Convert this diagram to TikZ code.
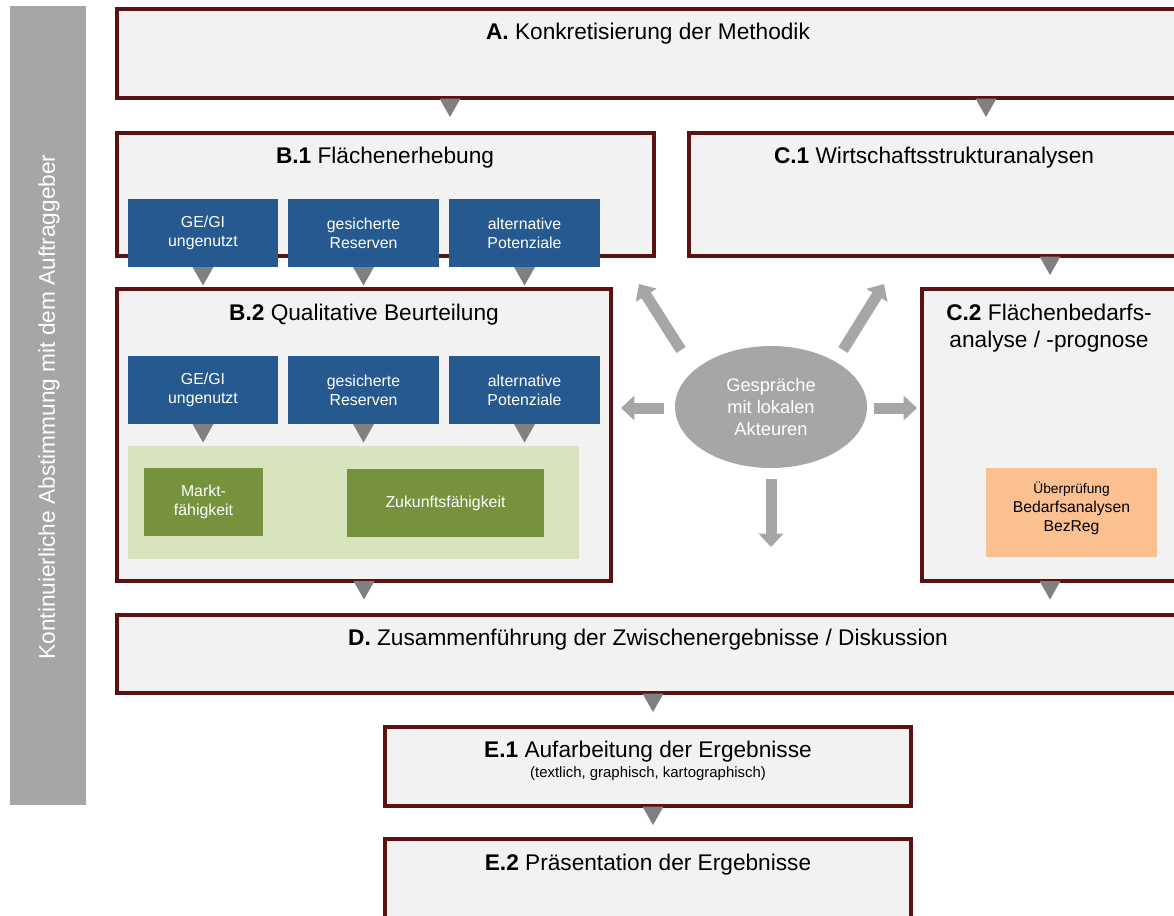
\documentclass[tikz,border=0pt]{standalone}
\usepackage{fontspec}
\setmainfont{Liberation Sans}
\usetikzlibrary{fit,arrows.meta,shapes.geometric}
\definecolor{bord}{RGB}{92,18,18}
\definecolor{boxfill}{RGB}{242,242,242}
\definecolor{bluebox}{RGB}{37,89,143}
\definecolor{greendark}{RGB}{118,146,60}
\definecolor{greenlight}{RGB}{215,228,189}
\definecolor{orangebox}{RGB}{250,192,144}
\definecolor{lgray}{RGB}{166,166,166}
\definecolor{trigray}{RGB}{128,128,128}
\begin{document}
\begin{tikzpicture}[x=0.75pt,y=-0.75pt,
  phase/.style={draw=bord, line width=3pt, fill=boxfill, inner sep=0pt, outer sep=0pt},
  flat/.style={inner sep=0pt, outer sep=0pt, draw=none},
  ttl/.style={inner sep=0pt, font=\fontsize{17}{20.25}\selectfont, align=center},
  wtext/.style={inner sep=0pt, text=white, align=center, font=\fontsize{11.9}{14.5}\selectfont},
  blk/.style={inner sep=0pt, text=black, align=center, font=\fontsize{11.8}{14.25}\selectfont},
  blockarr/.style={draw=lgray, line width=8.25pt, -{Triangle[width=18pt,length=10pt]}},
  tri/.pic={\fill[trigray] (-10.5,0) -- (10.5,0) -- (0,18.5) -- cycle;}
]
\useasboundingbox (0,0) rectangle (1174,915);
\fill[white] (0,0) rectangle (1174,915);
\clip (0,0) rectangle (1174,915);

% left bar
\node[flat, fill=lgray, fit={(10,6)(86,805)}] (bar) {};
\node[inner sep=0pt, text=white, rotate=90, font=\fontsize{17}{20}\selectfont] (bartxt) at (49,407) {Kontinuierliche Abstimmung mit dem Auftraggeber};

% phase boxes
\node[phase, fit={(117,9)(1182,98)}] (A) {};
\node[phase, fit={(117,133)(654,256)}] (B1) {};
\node[phase, fit={(689,133)(1182,256)}] (C1) {};
\node[phase, fit={(117,289)(611,581)}] (B2) {};
\node[phase, fit={(922,289)(1182,581)}] (C2) {};
\node[phase, fit={(117,615)(1182,693)}] (D) {};
\node[phase, fit={(385,727)(911,806)}] (E1) {};
\node[phase, fit={(385,839)(911,935)}] (E2) {};

% titles
\node[ttl] (tA) at (648,34) {\textbf{A.} Konkretisierung der Methodik};
\node[ttl] (tB1) at (385,158) {\textbf{B.1} Flächenerhebung};
\node[ttl] (tC1) at (934,158) {\textbf{C.1} Wirtschaftsstrukturanalysen};
\node[ttl] (tB2) at (364,315) {\textbf{B.2} Qualitative Beurteilung};
\node[ttl] (tC2) at (1049,328) {\textbf{C.2} Flächenbedarfs-\\analyse / -prognose};
\node[ttl] (tD) at (648,640) {\textbf{D.} Zusammenführung der Zwischenergebnisse / Diskussion};
\node[ttl] (tE1) at (648,752) {\textbf{E.1} Aufarbeitung der Ergebnisse};
\node[inner sep=0pt, font=\fontsize{11.2}{13}\selectfont] (sE1) at (648,774) {(textlich, graphisch, kartographisch)};
\node[ttl] (tE2) at (648,865) {\textbf{E.2} Präsentation der Ergebnisse};

% blue boxes B.1
\node[flat, fill=bluebox, fit={(128,199)(278,267)}] (b1a) {};
\node[flat, fill=bluebox, fit={(288,199)(439,267)}] (b1b) {};
\node[flat, fill=bluebox, fit={(449,199)(600,267)}] (b1c) {};
\node[wtext] (tb1a) at (b1a.center) {GE/GI\\ungenutzt};
\node[wtext] (tb1b) at (b1b.center) {gesicherte\\Reserven};
\node[wtext] (tb1c) at (b1c.center) {alternative\\Potenziale};

% blue boxes B.2
\node[flat, fill=bluebox, fit={(128,356)(278,424)}] (b2a) {};
\node[flat, fill=bluebox, fit={(288,356)(439,424)}] (b2b) {};
\node[flat, fill=bluebox, fit={(449,356)(600,424)}] (b2c) {};
\node[wtext] (tb2a) at (b2a.center) {GE/GI\\ungenutzt};
\node[wtext] (tb2b) at (b2b.center) {gesicherte\\Reserven};
\node[wtext] (tb2c) at (b2c.center) {alternative\\Potenziale};

% green area
\node[flat, fill=greenlight, fit={(128,446)(579,559)}] (garea) {};
\node[flat, fill=greendark, fit={(144,468)(263,536)}] (markt) {};
\node[flat, fill=greendark, fit={(347,469)(544,537)}] (zuk) {};
\node[wtext] (tmarkt) at (markt.center) {Markt-\\fähigkeit};
\node[wtext] (tzuk) at (zuk.center) {Zukunftsfähigkeit};

% orange box
\node[flat, fill=orangebox, fit={(986,468)(1157,557)}] (orng) {};
\node[blk] (torng) at (1071.5,508) {{\fontsize{10.3}{14.25}\selectfont Überprüfung}\\Bedarfsanalysen\\BezReg};

% ellipse
\node[ellipse, fill=lgray, draw=none, minimum width=144pt, minimum height=91.5pt, inner sep=0pt] (G) at (771,407) {};
\node[inner sep=0pt, text=white, align=center, font=\fontsize{13.7}{16.5}\selectfont] (tG) at (G.center) {Gespräche\\mit lokalen\\Akteuren};

% block arrows from the ellipse
\coordinate (aLs) at (664,408); \coordinate (aLe) at (621,408);
\coordinate (aRs) at (874,408); \coordinate (aRe) at (917,408);
\coordinate (aDs) at (771,479); \coordinate (aDe) at (771,547);
\coordinate (aULs) at (681,350); \coordinate (aULe) at (639,284);
\coordinate (aURs) at (843,350); \coordinate (aURe) at (884,284);
\draw[blockarr] (aLs) -- (aLe);
\draw[blockarr] (aRs) -- (aRe);
\draw[blockarr] (aDs) -- (aDe);
\draw[blockarr] (aULs) -- (aULe);
\draw[blockarr] (aURs) -- (aURe);

% triangle markers
\pic at (450,98.5) {tri};
\pic at (986,98.5) {tri};
\pic at (b1a.south) {tri};
\pic at (b1b.south) {tri};
\pic at (b1c.south) {tri};
\pic at (1050,256.5) {tri};
\pic at (b2a.south) {tri};
\pic at (b2b.south) {tri};
\pic at (b2c.south) {tri};
\pic at (364,581) {tri};
\pic at (1050,581) {tri};
\pic at (653,693.5) {tri};
\pic at (653,806.5) {tri};
\end{tikzpicture}
\end{document}
